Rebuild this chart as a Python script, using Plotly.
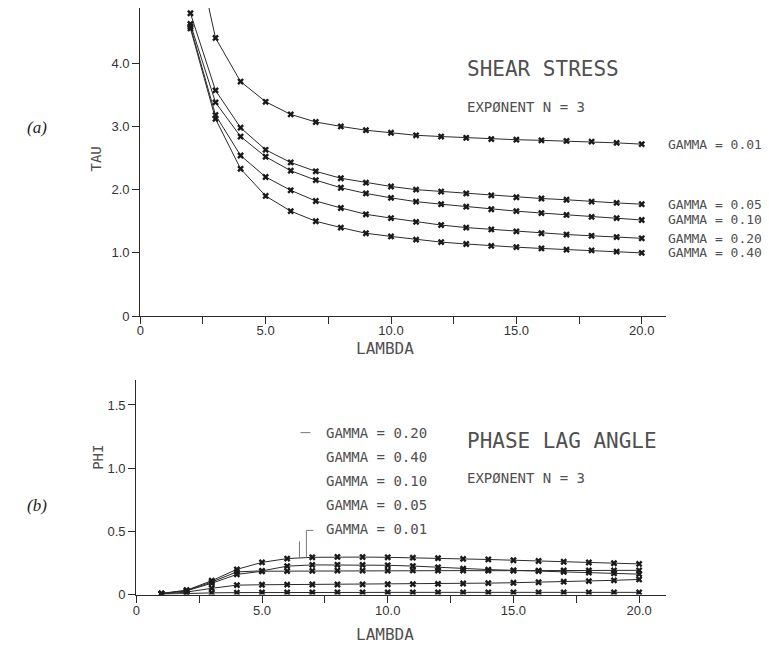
import plotly.graph_objects as go

W, H = 769, 653

# ---------------- data: shear stress (TAU) against LAMBDA ----------------
lam_tau = [2, 3, 4, 5, 6, 7, 8, 9, 10, 11, 12, 13, 14, 15, 16, 17, 18, 19, 20]
tau_g001 = [6.20, 4.40, 3.71, 3.39, 3.19, 3.07, 3.00, 2.94, 2.90, 2.86, 2.84, 2.82, 2.80, 2.79, 2.78, 2.77, 2.76, 2.74, 2.72]
tau_g005 = [4.79, 3.57, 2.98, 2.63, 2.43, 2.29, 2.18, 2.11, 2.05, 2.00, 1.97, 1.94, 1.91, 1.88, 1.86, 1.84, 1.81, 1.79, 1.77]
tau_g010 = [4.62, 3.38, 2.84, 2.52, 2.30, 2.15, 2.03, 1.94, 1.87, 1.81, 1.77, 1.73, 1.69, 1.66, 1.63, 1.60, 1.57, 1.55, 1.52]
tau_g020 = [4.58, 3.18, 2.54, 2.20, 1.99, 1.82, 1.71, 1.61, 1.55, 1.49, 1.44, 1.40, 1.37, 1.34, 1.31, 1.29, 1.27, 1.25, 1.23]
tau_g040 = [4.55, 3.12, 2.33, 1.90, 1.66, 1.50, 1.40, 1.31, 1.26, 1.21, 1.17, 1.14, 1.11, 1.09, 1.07, 1.05, 1.04, 1.02, 1.00]
tau_series = [("GAMMA = 0.01", tau_g001), ("GAMMA = 0.05", tau_g005), ("GAMMA = 0.10", tau_g010),
              ("GAMMA = 0.20", tau_g020), ("GAMMA = 0.40", tau_g040)]

# ---------------- data: phase lag angle (PHI) against LAMBDA ----------------
lam_phi = [1, 2, 3, 4, 5, 6, 7, 8, 9, 10, 11, 12, 13, 14, 15, 16, 17, 18, 19, 20]
phi_g020 = [0.010, 0.035, 0.110, 0.200, 0.255, 0.285, 0.295, 0.298, 0.297, 0.295, 0.292, 0.288, 0.283, 0.278, 0.272, 0.266, 0.260, 0.254, 0.248, 0.243]
phi_g040 = [0.008, 0.032, 0.100, 0.180, 0.188, 0.225, 0.235, 0.236, 0.235, 0.232, 0.226, 0.216, 0.205, 0.198, 0.192, 0.186, 0.180, 0.174, 0.168, 0.162]
phi_g010 = [0.008, 0.030, 0.090, 0.160, 0.185, 0.186, 0.188, 0.190, 0.190, 0.190, 0.191, 0.190, 0.190, 0.189, 0.190, 0.190, 0.191, 0.191, 0.192, 0.192]
phi_g005 = [0.005, 0.020, 0.050, 0.075, 0.078, 0.079, 0.080, 0.080, 0.081, 0.082, 0.083, 0.085, 0.088, 0.091, 0.094, 0.098, 0.102, 0.107, 0.113, 0.120]
phi_g001 = [0.003, 0.010, 0.014, 0.016, 0.017, 0.017, 0.018, 0.018, 0.018, 0.018, 0.018, 0.018, 0.018, 0.018, 0.018, 0.018, 0.018, 0.018, 0.018, 0.018]
phi_series = [("GAMMA = 0.20", phi_g020), ("GAMMA = 0.40", phi_g040), ("GAMMA = 0.10", phi_g010),
              ("GAMMA = 0.05", phi_g005), ("GAMMA = 0.01", phi_g001)]

# tick positions / labels
x_tickvals = [0, 2.5, 5, 7.5, 10, 12.5, 15, 17.5, 20]
x_ticktext = ["0", "", "5.0", "", "10.0", "", "15.0", "", "20.0"]
tau_tickvals = [0, 1, 2, 3, 4]
tau_ticktext = ["0", "1.0", "2.0", "3.0", "4.0"]
phi_tickvals = [0, 0.5, 1.0, 1.5]
phi_ticktext = ["0", "0.5", "1.0", "1.5"]

PLOT_FONT = "DejaVu Sans Mono"
TICK_FONT = "Liberation Sans"
INK = "#2a2a2a"
TEXT_INK = "#505050"


def P(x, y):
    """pixel position -> paper fraction"""
    return x / W, 1 - y / H


fig = go.Figure()

line_style = dict(color=INK, width=1)
marker_style = dict(symbol="x", size=6, color="#1a1a1a", line=dict(width=0))

for name, vals in tau_series:
    fig.add_trace(go.Scatter(x=lam_tau, y=vals, mode="lines+markers", name=name,
                             line=line_style, marker=marker_style,
                             xaxis="x", yaxis="y", showlegend=False))

for name, vals in phi_series:
    fig.add_trace(go.Scatter(x=lam_phi, y=vals, mode="lines+markers", name=name,
                             line=line_style, marker=marker_style,
                             xaxis="x2", yaxis="y2", showlegend=False))

axis_common = dict(showgrid=False, zeroline=False, showline=True, linecolor=INK, linewidth=1.2,
                   ticks="outside", ticklen=7, tickwidth=1, tickcolor=INK,
                   tickfont=dict(family=TICK_FONT, size=13, color="#333"))

x0a, x1a = P(137, 0)[0], P(665, 0)[0]
x0b, x1b = P(133, 0)[0], P(665, 0)[0]

fig.update_layout(
    width=W, height=H,
    margin=dict(l=0, r=0, t=0, b=0),
    paper_bgcolor="white", plot_bgcolor="white",
    xaxis=dict(domain=[x0a, x1a], range=[0, 20.95], anchor="y", ticklabelstandoff=-5,
               tickmode="array", tickvals=x_tickvals, ticktext=x_ticktext, **axis_common),
    yaxis=dict(domain=[P(0, 320)[1], P(0, 8)[1]], range=[0, 4.875], anchor="x",
               tickmode="array", tickvals=tau_tickvals, ticktext=tau_ticktext, **axis_common),
    xaxis2=dict(domain=[x0b, x1b], range=[0, 21.05], anchor="y2", ticklabelstandoff=-3,
                tickmode="array", tickvals=x_tickvals, ticktext=x_ticktext, **axis_common),
    yaxis2=dict(domain=[P(0, 602)[1], P(0, 385)[1]], range=[0, 1.695], anchor="x2",
                tickmode="array", tickvals=phi_tickvals, ticktext=phi_ticktext, **axis_common),
)

ann = []


def text(x, y, s, size, family=PLOT_FONT, color=TEXT_INK, xanchor="left", angle=0):
    px, py = P(x, y)
    ann.append(dict(x=px, y=py, xref="paper", yref="paper", text=s, showarrow=False,
                    xanchor=xanchor, yanchor="middle", textangle=angle,
                    font=dict(family=family, size=size, color=color)))


# titles inside the panels
text(463, 70, "SHEAR STRESS", 21)
text(463, 108, "EXPØNENT N = 3", 14)
text(463, 446, "PHASE LAG ANGLE", 21)
text(463, 484, "EXPØNENT N = 3", 14)

# axis titles
text(383, 353, "LAMBDA", 16, xanchor="center")
text(383, 642, "LAMBDA", 16, xanchor="center")
text(93, 161, "TAU", 14, xanchor="center", angle=-90)
text(95, 463, "PHI", 14, xanchor="center", angle=-90)

# panel letters
text(33, 129, "<i>(a)</i>", 17, family="Liberation Serif", color="#222", xanchor="center")
text(33, 512, "<i>(b)</i>", 17, family="Liberation Serif", color="#222", xanchor="center")

# curve labels at the ends of the shear stress curves
for name, vals in tau_series:
    ann.append(dict(x=lam_tau[-1], y=vals[-1], xref="x", yref="y", text=name, showarrow=False,
                    xanchor="left", yanchor="middle", xshift=24,
                    font=dict(family=PLOT_FONT, size=13, color=TEXT_INK)))

# stacked labels for the phase lag curves
for i, (name, _) in enumerate(phi_series):
    text(322, 438 + i * 24.5, name, 14)

fig.update_layout(annotations=ann)

# leader lines from the phase-lag labels to the curves
shapes = []


def seg(xa, ya, xb, yb):
    pa, pb = P(xa, ya), P(xb, yb)
    shapes.append(dict(type="line", xref="paper", yref="paper", x0=pa[0], y0=pa[1], x1=pb[0], y1=pb[1],
                       line=dict(color="#777", width=1)))


seg(298, 438, 308, 438)
seg(304, 537, 311, 537)
seg(304, 537, 304, 565)
seg(297, 548, 297, 565)
fig.update_layout(shapes=shapes)

fig.write_html("out.html")
